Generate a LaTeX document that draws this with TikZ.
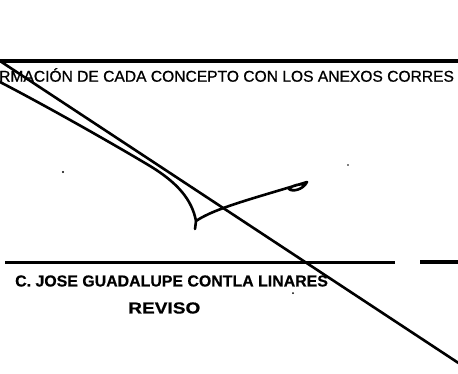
\documentclass[tikz,border=0pt]{standalone}
\usepackage{fontspec}
\setmainfont{Liberation Sans}
\newfontfamily\scanfont[FakeBold=0.8]{Liberation Sans}
\newfontfamily\scanbold[FakeBold=0.5]{Liberation Sans Bold}
\begin{document}
\begin{tikzpicture}[x=1pt,y=-1pt,
  rule/.style={line width=3.4pt},
  pen/.style={line width=2.6pt,line cap=round,line join=round},
  speck/.style={fill=black,draw=none},
  toptext/.style={anchor=west,inner sep=0pt,font=\scanfont\fontsize{15.6}{18}\selectfont},
  nametext/.style={anchor=west,inner sep=0pt,font=\scanbold\fontsize{15.9}{19}\selectfont}]
\useasboundingbox (0,0) rectangle (458,373);
\clip (0,0) rectangle (458,373);
% rules
\coordinate (t1) at (0,61);
\coordinate (t2) at (458,61);
\draw[rule] (t1) -- (t2);
\coordinate (b1) at (5,262);
\coordinate (b2) at (395,262);
\draw[line width=3pt] (b1) -- (b2);
\coordinate (b3) at (420,262);
\coordinate (b4) at (458,262);
\draw[rule] (b3) -- (b4);
% texts
\node[toptext] (head) at (-1,75) {RMACIÓN DE CADA CONCEPTO CON LOS ANEXOS CORRES};
\node[nametext] (name) at (15,281) {C. JOSE GUADALUPE CONTLA LINARES};
\node[nametext,xscale=1.2] (rev) at (128,308) {REVISO};
% long diagonal
\coordinate (d1) at (0,61);
\coordinate (d2) at (460,364);
\draw[pen] (d1) -- (d2);
% signature
\coordinate (s0) at (0,82);
\coordinate (s1) at (150,166);
\coordinate (s2) at (196,221);
\coordinate (s3) at (307,182);
\coordinate (s4) at (195,229);
\draw[pen] (s0) .. controls (50,108) and (115,145) .. (s1)
  .. controls (178,183) and (192,200) .. (s2);
\draw[pen] (s4) -- (s2) .. controls (215,208) and (255,198) .. (s3)
  .. controls (303,190) and (292,192) .. (289,189)
  .. controls (292,185) and (300,184) .. (306,184);
% specks
\fill[speck] (63,172) circle (1.1);
\fill[speck] (348,165) circle (0.9);
\fill[speck] (293,293) circle (1);
\end{tikzpicture}
\end{document}
